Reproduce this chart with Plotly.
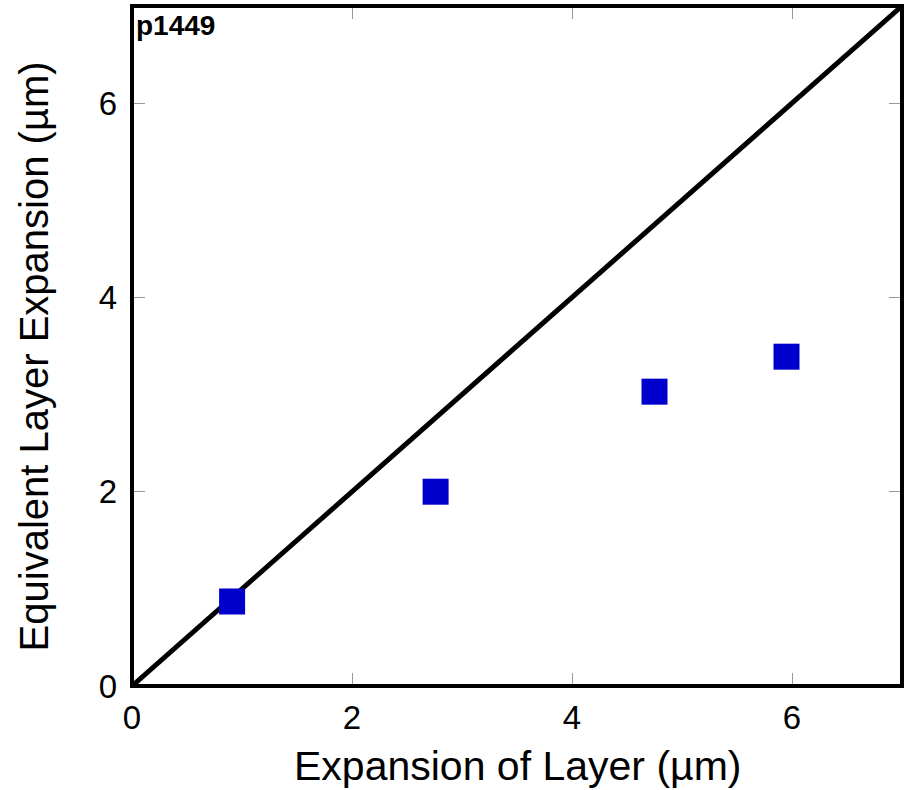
import plotly.graph_objects as go

# Measured layer expansion vs. equivalent layer expansion (µm)
expansion = [0.91, 2.76, 4.75, 5.95]
equivalent = [0.87, 2.00, 3.03, 3.39]

# 1:1 reference line
ref_x = [0, 7]
ref_y = [0, 7]

tick_vals = [0, 2, 4, 6]
tick_text = ["0", "2", "4", "6"]

font_family = "Liberation Sans, Arial, sans-serif"

fig = go.Figure()
fig.add_trace(go.Scatter(x=ref_x, y=ref_y, mode="lines",
                         line=dict(color="black", width=5), showlegend=False,
                         cliponaxis=True))
fig.add_trace(go.Scatter(x=expansion, y=equivalent, mode="markers",
                         marker=dict(symbol="square", size=26, color="#0000cc",
                                     line=dict(width=0)),
                         showlegend=False))

axis_common = dict(
    range=[0, 7], tickvals=tick_vals, ticktext=tick_text,
    ticks="inside", ticklen=13, tickwidth=1, tickcolor="#999999",
    showgrid=False, zeroline=False, showline=False, mirror="ticks",
    tickfont=dict(family=font_family, size=33, color="black"),
)

fig.update_xaxes(**axis_common, ticklabelstandoff=9)
fig.update_yaxes(**axis_common, ticklabelstandoff=14)

# Plot frame
fig.add_shape(type="rect", xref="paper", yref="paper", x0=0, y0=0, x1=1, y1=1,
              line=dict(color="black", width=4), layer="above")

fig.add_annotation(text="<b>p1449</b>", xref="paper", yref="paper", x=0.003, y=0.997,
                   xanchor="left", yanchor="top", showarrow=False,
                   font=dict(family=font_family, size=28, color="black"))
fig.add_annotation(text="Expansion of Layer (µm)", xref="paper", yref="paper",
                   x=0.5, y=-0.117, xanchor="center", yanchor="middle", showarrow=False,
                   font=dict(family=font_family, size=41, color="black"))
fig.add_annotation(text="Equivalent Layer Expansion (µm)", xref="paper", yref="paper",
                   x=-0.127, y=0.485, xanchor="center", yanchor="middle", textangle=-90,
                   showarrow=False,
                   font=dict(family=font_family, size=40, color="black"))

fig.update_layout(
    width=909, height=790,
    margin=dict(l=132, r=7, t=6, b=104),
    plot_bgcolor="white", paper_bgcolor="white",
)

fig.write_html("out.html")
